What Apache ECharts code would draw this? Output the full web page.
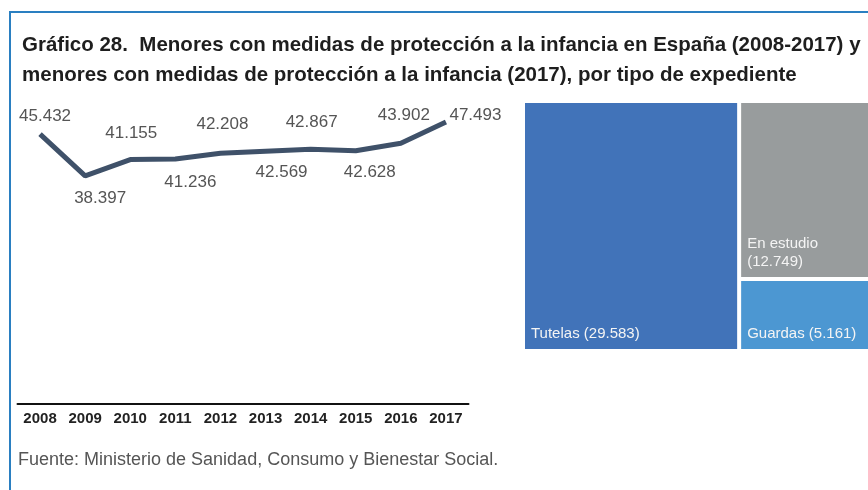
<!DOCTYPE html>
<html>
<head>
<meta charset="utf-8">
<script src="https://cdn.jsdelivr.net/npm/echarts@6/dist/echarts.min.js"></script>
<style>
  html, body { margin: 0; padding: 0; background: #fff; }
  #chart { width: 868px; height: 490px; }
</style>
</head>
<body>
<div id="chart"></div>
<script>
// Menores con medidas de protección (serie anual)
const years = ['2008', '2009', '2010', '2011', '2012', '2013', '2014', '2015', '2016', '2017'];
const totals = [45432, 38397, 41155, 41236, 42208, 42569, 42867, 42628, 43902, 47493];

// Desglose 2017 por tipo de expediente
const typeNames = ['Tutelas', 'En estudio', 'Guardas'];
const typeValues = [29583, 12749, 5161];
const typeColors = ['#4173b9', '#989c9d', '#4c97d2'];

const FONT = '"Liberation Sans", Arial, Helvetica, sans-serif';

// Spanish thousands separator
function fmt(v) {
  return String(v).replace(/\B(?=(\d{3})+(?!\d))/g, '.');
}

// Labels alternate above/below the line; the last one sits to the right
const labelPlacement = [
  { position: 'top', offset: [5, 10] },
  { position: 'bottom', offset: [15, -6] },
  { position: 'top', offset: [1, 2] },
  { position: 'bottom', offset: [15, -5] },
  { position: 'top', offset: [2, -1] },
  { position: 'bottom', offset: [16, -7] },
  { position: 'top', offset: [1, 1] },
  { position: 'bottom', offset: [14, -6] },
  { position: 'top', offset: [3, 0] },
  { position: 'right', offset: [-16, -7] }
];

const lineData = totals.map((v, i) => ({
  value: v,
  label: Object.assign({ show: true }, labelPlacement[i])
}));

const treeData = typeNames.map((n, i) => ({
  name: n,
  value: typeValues[i],
  itemStyle: { color: typeColors[i] }
}));

const chart = echarts.init(document.getElementById('chart'), null, { renderer: 'canvas' });

chart.setOption({
  animation: false,
  backgroundColor: '#fff',
  textStyle: { fontFamily: FONT },
  title: {
    text: 'Gráfico 28.  Menores con medidas de protección a la infancia en España (2008-2017) y\nmenores con medidas de protección a la infancia (2017), por tipo de expediente',
    left: 22,
    top: 30,
    padding: 0,
    textStyle: {
      fontFamily: FONT,
      fontSize: 20.5,
      fontWeight: 'bold',
      color: '#1e1e1e',
      lineHeight: 30
    }
  },
  graphic: [
    { type: 'line', shape: { x1: 10, y1: 12, x2: 868, y2: 12 }, style: { stroke: '#2a7fc1', lineWidth: 2 } },
    { type: 'line', shape: { x1: 10, y1: 11, x2: 10, y2: 490 }, style: { stroke: '#2a7fc1', lineWidth: 2 } },
    {
      type: 'text', left: 18, top: 451,
      style: {
        text: 'Fuente: Ministerio de Sanidad, Consumo y Bienestar Social.',
        font: '18px ' + FONT, fill: '#555'
      }
    }
  ],
  grid: { left: 17.5, width: 451, top: 47.6, bottom: 86 },
  xAxis: {
    type: 'category',
    data: years,
    boundaryGap: true,
    axisLine: { lineStyle: { color: '#111', width: 2 } },
    axisTick: { show: false },
    axisLabel: { color: '#222', fontSize: 15, fontWeight: 'bold', margin: 7, fontFamily: FONT }
  },
  yAxis: {
    type: 'value',
    min: 0,
    max: 60000,
    show: false,
    splitLine: { show: false }
  },
  series: [
    {
      type: 'line',
      data: lineData,
      symbol: 'circle',
      symbolSize: 1,
      showSymbol: true,
      itemStyle: { color: 'rgba(0,0,0,0)' },
      lineStyle: { color: '#3f5169', width: 5 },
      label: {
        show: true,
        distance: 19,
        fontSize: 17,
        color: '#555',
        fontFamily: FONT,
        formatter: p => fmt(p.value)
      }
    },
    {
      type: 'treemap',
      left: 525,
      top: 103,
      width: 343,
      height: 246,
      roam: false,
      nodeClick: false,
      breadcrumb: { show: false },
      squareRatio: 0.5 * (1 + Math.sqrt(5)),
      itemStyle: { gapWidth: 4, borderWidth: 0 },
      levels: [{ itemStyle: { gapWidth: 4, borderWidth: 0 } }],
      label: {
        show: true,
        position: 'insideBottomLeft',
        distance: 1,
        color: '#f4f4f4',
        fontSize: 15,
        lineHeight: 18,
        fontFamily: FONT,
        formatter: p => (p.name === 'En estudio' ? p.name + '\n(' + fmt(p.value) + ')' : p.name + ' (' + fmt(p.value) + ')')
      },
      data: treeData
    }
  ]
});
</script>
</body>
</html>
